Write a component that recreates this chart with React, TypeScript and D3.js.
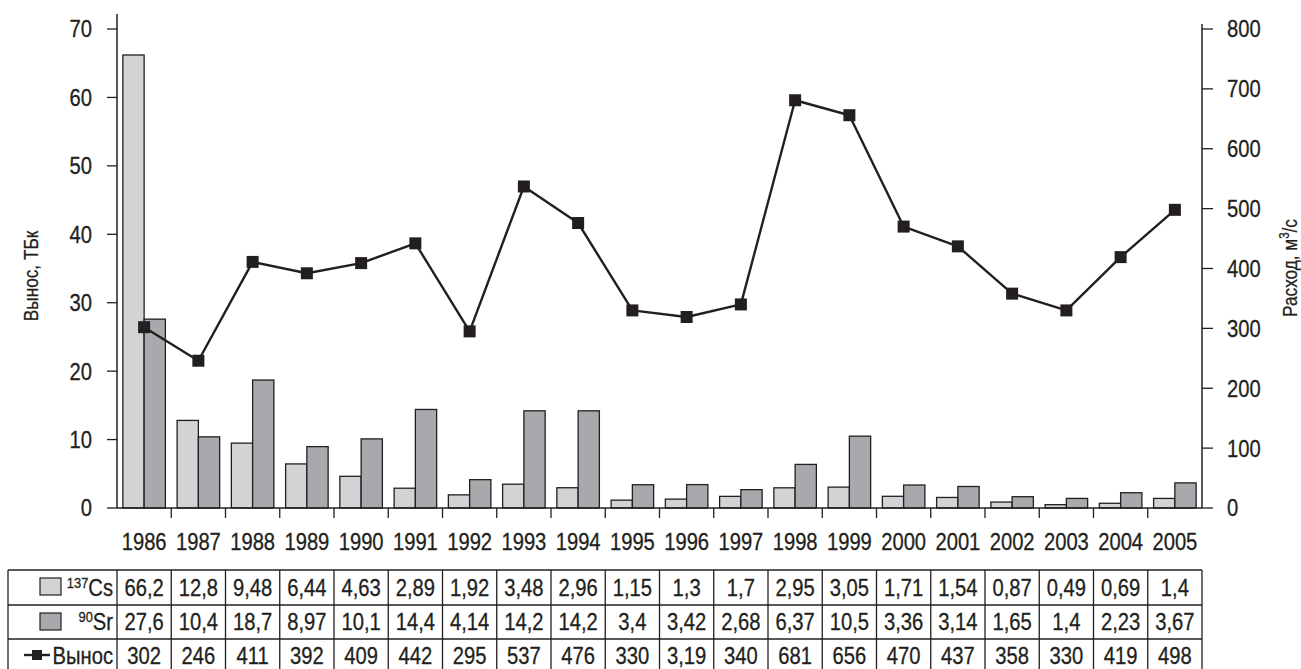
import React from "react";
import * as d3 from "d3";

// Annual values, 1986–2005
const years = ["1986","1987","1988","1989","1990","1991","1992","1993","1994","1995","1996","1997","1998","1999","2000","2001","2002","2003","2004","2005"];
const cs137 = [66.2,12.8,9.48,6.44,4.63,2.89,1.92,3.48,2.96,1.15,1.3,1.7,2.95,3.05,1.71,1.54,0.87,0.49,0.69,1.4];
const sr90 = [27.6,10.4,18.7,8.97,10.1,14.4,4.14,14.2,14.2,3.4,3.42,2.68,6.37,10.5,3.36,3.14,1.65,1.4,2.23,3.67];
const discharge = [302,246,411,392,409,442,295,537,476,330,319,340,681,656,470,437,358,330,419,498];
const dischargeLabels = ["302","246","411","392","409","442","295","537","476","330","3,19","340","681","656","470","437","358","330","419","498"];
const leftTicks = [0,10,20,30,40,50,60,70];
const rightTicks = [0,100,200,300,400,500,600,700,800];

const FONT = "'Liberation Sans', Arial, sans-serif";
const INK = "#231f20";
const CS_FILL = "#d2d3d5";
const SR_FILL = "#a7a9ac";

const W = 1301, H = 669;
const X0 = 117, X1 = 1202, Y0 = 508, YTOP = 29;
const FS = 23.5;
const SX = 0.86; // horizontal compression for a condensed look

const fmt = (v: number) => String(v).replace(".", ",");

type TProps = {
  x: number;
  y: number;
  anchor?: "start" | "middle" | "end";
  rotate?: number;
  size?: number;
  sx?: number;
  children: React.ReactNode;
};

// Condensed text label anchored at (x, y)
function T({ x, y, anchor = "middle", rotate = 0, size = FS, sx = SX, children }: TProps) {
  return (
    <g transform={`translate(${x},${y}) rotate(${rotate}) scale(${sx},1)`}>
      <text textAnchor={anchor} fontSize={size} fill={INK} stroke={INK} strokeWidth={0.3}>{children}</text>
    </g>
  );
}

export default function App() {
  const x = d3.scaleBand<string>().domain(years).range([X0, X1]).padding(0);
  const bw = x.bandwidth();
  const xSub = d3.scaleBand<string>().domain(["cs", "sr"]).range([0, bw]).paddingInner(0).paddingOuter(0.276);
  const yL = d3.scaleLinear().domain([0, 70]).range([Y0, YTOP]);
  const yR = d3.scaleLinear().domain([0, 800]).range([Y0, YTOP]);
  const cx = (y: string) => (x(y) ?? 0) + bw / 2;

  const line = d3.line<number>().x((_, i) => cx(years[i])).y((d) => yR(d));

  const rowTop = [570, 605, 639, 673];
  const tableLeft = 8;

  return (
    <svg width={W} height={H} style={{ display: "block", position: "absolute", left: 0, top: 0 }} fontFamily={FONT}>
      <rect width={W} height={H} fill="#fff" />

      {/* bars */}
      {years.map((yr, i) => (
        <g key={yr} stroke={INK} strokeWidth={1.3}>
          <rect x={(x(yr) ?? 0) + (xSub("cs") ?? 0)} y={yL(cs137[i])} width={xSub.bandwidth()} height={Y0 - yL(cs137[i])} fill={CS_FILL} />
          <rect x={(x(yr) ?? 0) + (xSub("sr") ?? 0)} y={yL(sr90[i])} width={xSub.bandwidth()} height={Y0 - yL(sr90[i])} fill={SR_FILL} />
        </g>
      ))}

      {/* baseline and category ticks */}
      <line x1={X0} x2={X1} y1={Y0} y2={Y0} stroke={INK} strokeWidth={1.5} />
      {years.slice(1).map((yr) => (
        <line key={yr} x1={x(yr)} x2={x(yr)} y1={Y0} y2={Y0 + 10} stroke={INK} strokeWidth={1.3} />
      ))}
      {years.map((yr) => (
        <T key={yr} x={cx(yr)} y={550}>{yr}</T>
      ))}

      {/* left axis */}
      <line x1={X0} x2={X0} y1={14} y2={Y0} stroke={INK} strokeWidth={1.5} />
      {leftTicks.map((t) => (
        <g key={t}>
          <line x1={X0 - 10} x2={X0} y1={yL(t)} y2={yL(t)} stroke={INK} strokeWidth={1.3} />
          <T x={92} y={yL(t) + 8.4} anchor="end">{t}</T>
        </g>
      ))}
      <T x={37.5} y={276} rotate={-90} size={21} sx={0.82}>Вынос, ТБк</T>

      {/* right axis */}
      <line x1={X1} x2={X1} y1={24} y2={Y0} stroke={INK} strokeWidth={1.5} />
      {rightTicks.map((t) => (
        <g key={t}>
          <line x1={X1} x2={X1 + 11} y1={yR(t)} y2={yR(t)} stroke={INK} strokeWidth={1.3} />
          <T x={1227} y={yR(t) + 8.4} anchor="start">{t}</T>
        </g>
      ))}
      <T x={1297} y={268} rotate={-90} size={21} sx={0.82}>
        Расход, м<tspan fontSize={14} dy={-8}>3</tspan><tspan dy={8}>/с</tspan>
      </T>

      {/* discharge line */}
      <path d={line(discharge) ?? ""} fill="none" stroke={INK} strokeWidth={2.4} strokeLinejoin="round" />
      {discharge.map((v, i) => (
        <rect key={i} x={cx(years[i]) - 6} y={yR(v) - 6} width={12} height={12} fill={INK} />
      ))}

      {/* data table */}
      <g stroke={INK} strokeWidth={1.3} fill="none">
        {rowTop.map((ry) => (
          <line key={ry} x1={tableLeft} x2={X1} y1={ry} y2={ry} />
        ))}
        <line x1={tableLeft} x2={tableLeft} y1={rowTop[0]} y2={rowTop[3]} />
        <line x1={X0} x2={X0} y1={rowTop[0]} y2={rowTop[3]} />
        {years.map((yr) => (
          <line key={yr} x1={(x(yr) ?? 0) + bw} x2={(x(yr) ?? 0) + bw} y1={rowTop[0]} y2={rowTop[3]} />
        ))}
      </g>

      {/* legend column */}
      <rect x={40} y={578} width={21} height={17} fill={CS_FILL} stroke={INK} strokeWidth={1.2} />
      <T x={113} y={596} anchor="end">
        <tspan fontSize={15} dy={-8}>137</tspan><tspan dy={8}>Cs</tspan>
      </T>
      <rect x={40} y={613} width={21} height={17} fill={SR_FILL} stroke={INK} strokeWidth={1.2} />
      <T x={113} y={630} anchor="end">
        <tspan fontSize={15} dy={-8}>90</tspan><tspan dy={8}>Sr</tspan>
      </T>
      <line x1={24} x2={50} y1={655} y2={655} stroke={INK} strokeWidth={2.4} />
      <rect x={32} y={650} width={10} height={10} fill={INK} />
      <T x={113} y={664} anchor="end">Вынос</T>

      {/* table values */}
      {years.map((yr, i) => (
        <g key={yr}>
          <T x={cx(yr)} y={596}>{fmt(cs137[i])}</T>
          <T x={cx(yr)} y={630}>{fmt(sr90[i])}</T>
          <T x={cx(yr)} y={664}>{dischargeLabels[i]}</T>
        </g>
      ))}
    </svg>
  );
}
